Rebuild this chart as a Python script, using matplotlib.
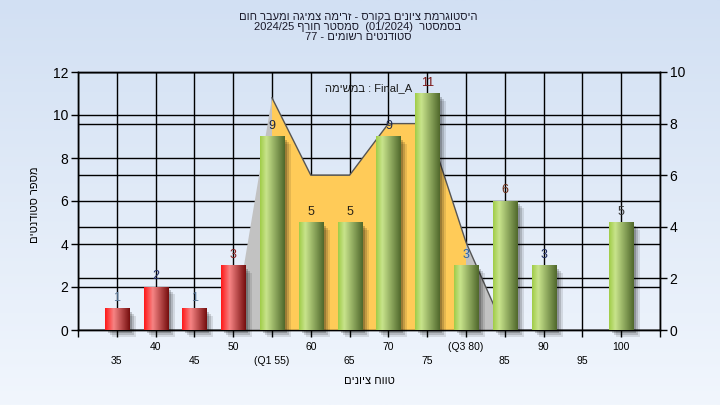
import numpy as np
import matplotlib
matplotlib.use("Agg")
import matplotlib.pyplot as plt
import matplotlib.transforms as mtransforms
from matplotlib.patches import Rectangle

plt.rcParams['font.family'] = ['Liberation Sans', 'DejaVu Sans']

# ---------------- data ----------------
categories = [35, 40, 45, 50, 55, 60, 65, 70, 75, 80, 85, 90, 95, 100]
tick_labels = ['35', '40', '45', '50', '(Q1 55)', '60', '65', '70', '75',
               '(Q3 80)', '85', '90', '95', '100']
counts = [1, 2, 1, 3, 9, 5, 5, 9, 11, 3, 6, 3, 0, 5]
label_colors = ['#5a7898', '#23306a', '#5a7898', '#8a2222', '#1e2640',
                '#2a2418', '#2a2418', '#1e2a50', '#7a1414', '#2a64a8',
                '#6a2a12', '#1e2a60', '#404040', '#3a3a3a']
pass_mark = 55
curve_x = [50, 55, 60, 65, 70, 75, 80, 85]
curve_y = [0, 9, 6, 6, 8, 8, 3.4, 0]
q1, q3 = 55, 80


def vis(s):
    """visual (left-to-right) order of a right-to-left Hebrew run"""
    return s[::-1]


title_lines = [
    vis("היסטוגרמת ציונים בקורס - זרימה צמיגה ומעבר חום"),
    "2024/25 " + vis("סמסטר חורף") + "  (01/2024)  " + vis("בסמסטר"),
    "77 - " + vis("סטודנטים רשומים"),
]
legend_text = vis("במשימה") + " : Final_A"
xlabel = vis("טווח ציונים")
ylabel = vis("מספר סטודנטים")

# ---------------- figure ----------------
fig = plt.figure(figsize=(7.2, 4.05), dpi=100)

bg = fig.add_axes([0, 0, 1, 1], zorder=-10)
grad = np.linspace(0, 1, 256)[:, None]
top_c = np.array([210, 224, 243]) / 255
bot_c = np.array([241, 246, 253]) / 255
img = top_c[None, None, :] * (1 - grad[:, :, None]) + bot_c[None, None, :] * grad[:, :, None]
bg.imshow(img, aspect='auto', extent=[0, 1, 0, 1])
bg.set_axis_off()

L, R, B, T = 78 / 720, 660 / 720, 1 - 330 / 405, 1 - 72 / 405
ax = fig.add_axes([L, B, R - L, T - B])
ax2 = ax.twinx()
ax.set_zorder(2)
ax2.set_zorder(1)
ax.patch.set_visible(False)
ax2.patch.set_facecolor('#b3b3b3')

n = len(categories)
xpos = np.arange(n)
ax.set_xlim(-1, n)
ax.set_ylim(0, 12)
ax2.set_ylim(0, 10)

# grids
ax.set_axisbelow(True)
ax.set_yticks(np.arange(0, 13, 2))
ax2.set_yticks(np.arange(0, 11, 2))
ax.yaxis.grid(True, color='black', lw=1)
ax2.yaxis.grid(True, color='black', lw=1)

# x ticks: upper row (major) and lower row (minor)
upper = [i for i in range(n) if i % 2 == 1]
lower = [-1] + [i for i in range(n) if i % 2 == 0] + [n]
ax.set_xticks(upper)
ax.set_xticklabels([tick_labels[i] for i in upper])
ax.set_xticks(lower, minor=True)
ax.set_xticklabels([''] + [tick_labels[i] for i in lower[1:-1]] + [''], minor=True)
ax.xaxis.grid(True, which='both', color='black', lw=1)
ax.tick_params(axis='x', which='major', length=5, width=1, pad=4, labelsize=7.5)
ax.tick_params(axis='x', which='minor', length=5, width=1, pad=14, labelsize=7.5)
ax.tick_params(axis='y', length=5, width=1, pad=2, labelsize=10)
ax2.tick_params(axis='y', length=5, width=1, pad=2, labelsize=10)
for a in (ax, ax2):
    for s in a.spines.values():
        s.set_color('black')
        s.set_linewidth(1)

# area series (right axis scale)
blend = mtransforms.blended_transform_factory(ax.transData, ax2.transData)
cx = [categories.index(v) for v in curve_x]
ax.fill(cx + [cx[-1], cx[0]], curve_y + [0, 0], color='#c2c2c2', lw=0,
        transform=blend, zorder=1)
inner = [i for i, v in enumerate(curve_x) if q1 <= v <= q3]
ix = [cx[i] for i in inner]
iy = [curve_y[i] for i in inner]
ax.fill(ix + [ix[-1], ix[0]], iy + [0, 0], color='#ffcb58', lw=0,
        transform=blend, zorder=1.2)
ax.plot(cx[1:], curve_y[1:], color='#555555', lw=1, transform=blend, zorder=1.4)

# bars with cylinder gradient and shadow
red_stops = [(0.0, (255, 24, 24)), (0.35, (246, 132, 132)), (1.0, (118, 14, 14))]
green_stops = [(0.0, (160, 204, 72)), (0.25, (200, 228, 140)), (1.0, (80, 104, 44))]


def make_grad(stops, N=64):
    t = np.linspace(0, 1, N)
    pos = [s[0] for s in stops]
    cols = np.array([s[1] for s in stops]) / 255
    out = np.stack([np.interp(t, pos, cols[:, k]) for k in range(3)], axis=-1)
    return out[None, :, :]


width = 0.62
bars = ax.bar(xpos, counts, width=width, facecolor='none', edgecolor='none', zorder=3)
for i, (patch, c) in enumerate(zip(bars, counts)):
    if c <= 0:
        continue
    x0 = patch.get_x()
    w = patch.get_width()
    h = patch.get_height()
    for k, (dx, al) in enumerate([(7, 0.10), (5, 0.15), (3, 0.2)]):
        tr = mtransforms.offset_copy(ax.transData, fig=fig, x=dx, y=-dx, units='dots')
        ax.add_patch(Rectangle((x0, 0), w, h, transform=tr, facecolor='black',
                               alpha=al, lw=0, zorder=2.5, clip_on=False))
    stops = red_stops if categories[i] < pass_mark else green_stops
    ax.imshow(make_grad(stops), extent=[x0, x0 + w, 0, h], aspect='auto',
              interpolation='bilinear', zorder=3)
    ax.annotate(str(c), (xpos[i], c), xytext=(0, 3.5), textcoords='offset points',
                ha='center', va='bottom', fontsize=9, color=label_colors[i], zorder=5)

ax.set_xlim(-1, n)
ax.set_ylim(0, 12)

# texts
ax.text(0.5, 0.955, legend_text, transform=ax.transAxes, ha='center', va='top',
        fontsize=8, color='#1a1a1a', zorder=6)
fig.text(0.497, 1 - 12 / 405, "\n".join(title_lines), ha='center', va='top',
         fontsize=8, color='#1a1a2a', linespacing=1.0)
fig.text(0.5 * (L + R), 1 - 381 / 405, xlabel, ha='center', va='center', fontsize=8)
fig.text(35 / 720, 1 - 205 / 405, ylabel, rotation=90, ha='center', va='center',
         fontsize=8)

fig.savefig("out.png", dpi=100)
